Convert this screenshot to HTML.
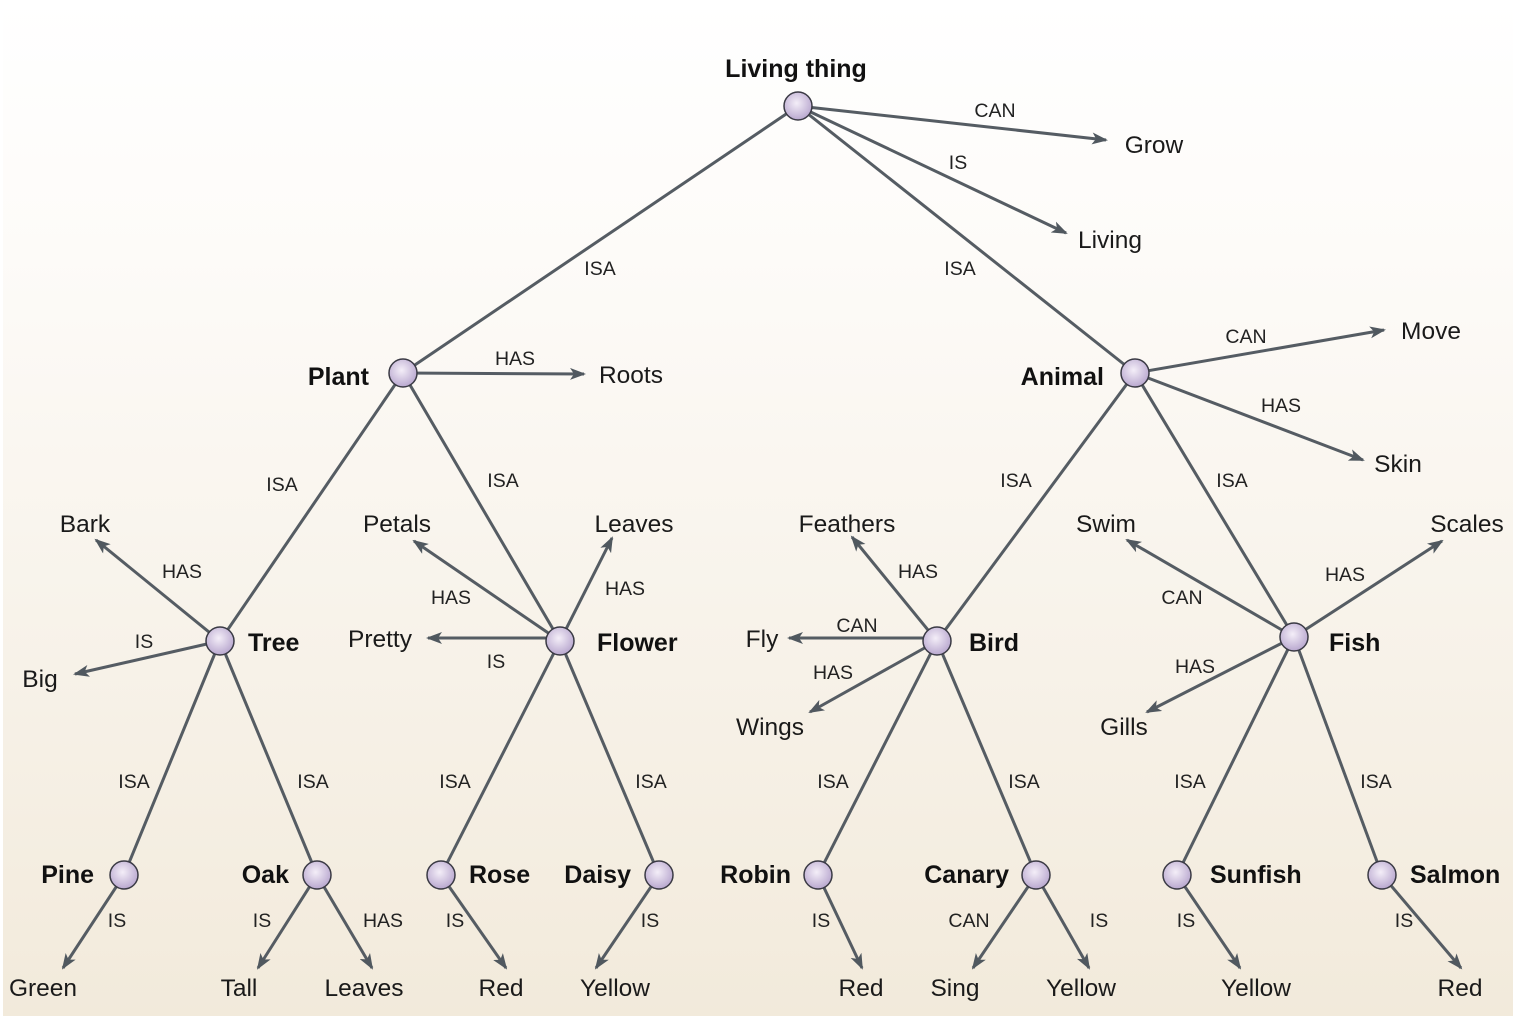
<!DOCTYPE html>
<html><head><meta charset="utf-8"><style>
html,body{margin:0;padding:0;width:1516px;height:1022px;overflow:hidden;background:#fff}
svg{display:block}
.b{font:bold 25px "Liberation Sans",sans-serif;fill:#111}
.t{font:24.5px "Liberation Sans",sans-serif;fill:#1a1a1a}
.l{font:19.5px "Liberation Sans",sans-serif;fill:#222}
</style></head><body>
<svg width="1516" height="1022" xmlns="http://www.w3.org/2000/svg">
<defs>
<linearGradient id="bg" x1="0" y1="0" x2="0" y2="1">
<stop offset="0" stop-color="#ffffff"/><stop offset="0.25" stop-color="#fdfbf8"/><stop offset="1" stop-color="#f2eadb"/>
</linearGradient>
<radialGradient id="nd" cx="0.45" cy="0.4" r="0.6">
<stop offset="0" stop-color="#f4eef8"/><stop offset="1" stop-color="#b9a8cf"/>
</radialGradient>
<marker id="a" viewBox="0 0 16 12" refX="14" refY="6" markerWidth="16" markerHeight="12" orient="auto" markerUnits="userSpaceOnUse">
<path d="M0,0 L16,6 L0,12 L4,6 z" fill="#50585f"/>
</marker>
</defs>
<rect x="3" y="0" width="1510" height="1016" fill="url(#bg)"/>
<g stroke="#555c63" stroke-width="3" fill="none">
<line x1="798" y1="106" x2="403" y2="373"/>
<line x1="798" y1="106" x2="1135" y2="373"/>
<line x1="403" y1="373" x2="220" y2="641"/>
<line x1="403" y1="373" x2="560" y2="641"/>
<line x1="1135" y1="373" x2="937" y2="641"/>
<line x1="1135" y1="373" x2="1294" y2="637"/>
<line x1="220" y1="641" x2="124" y2="875"/>
<line x1="220" y1="641" x2="317" y2="875"/>
<line x1="560" y1="641" x2="441" y2="875"/>
<line x1="560" y1="641" x2="659" y2="875"/>
<line x1="937" y1="641" x2="818" y2="875"/>
<line x1="937" y1="641" x2="1036" y2="875"/>
<line x1="1294" y1="637" x2="1177" y2="875"/>
<line x1="1294" y1="637" x2="1382" y2="875"/>
</g>
<g stroke="#555c63" stroke-width="3" fill="none" marker-end="url(#a)">
<line x1="798" y1="106" x2="1106" y2="140"/>
<line x1="798" y1="106" x2="1066" y2="233"/>
<line x1="403" y1="373" x2="584" y2="374"/>
<line x1="1135" y1="373" x2="1384" y2="330"/>
<line x1="1135" y1="373" x2="1363" y2="460"/>
<line x1="220" y1="641" x2="96" y2="540"/>
<line x1="220" y1="641" x2="75" y2="674"/>
<line x1="560" y1="641" x2="414" y2="541"/>
<line x1="560" y1="641" x2="612" y2="538"/>
<line x1="560" y1="638" x2="428" y2="638"/>
<line x1="937" y1="641" x2="852" y2="537"/>
<line x1="937" y1="638" x2="789" y2="638"/>
<line x1="937" y1="641" x2="810" y2="712"/>
<line x1="1294" y1="637" x2="1127" y2="540"/>
<line x1="1294" y1="637" x2="1442" y2="541"/>
<line x1="1294" y1="637" x2="1147" y2="712"/>
<line x1="124" y1="875" x2="63" y2="968"/>
<line x1="317" y1="875" x2="258" y2="968"/>
<line x1="317" y1="875" x2="372" y2="968"/>
<line x1="441" y1="875" x2="506" y2="968"/>
<line x1="659" y1="875" x2="596" y2="968"/>
<line x1="818" y1="875" x2="862" y2="968"/>
<line x1="1036" y1="875" x2="973" y2="968"/>
<line x1="1036" y1="875" x2="1089" y2="968"/>
<line x1="1177" y1="875" x2="1240" y2="968"/>
<line x1="1382" y1="875" x2="1461" y2="968"/>
</g>
<g fill="url(#nd)" stroke="#3a3a44" stroke-width="1.5">
<circle cx="798" cy="106" r="14"/><circle cx="403" cy="373" r="14"/><circle cx="1135" cy="373" r="14"/>
<circle cx="220" cy="641" r="14"/><circle cx="560" cy="641" r="14"/><circle cx="937" cy="641" r="14"/><circle cx="1294" cy="637" r="14"/>
<circle cx="124" cy="875" r="14"/><circle cx="317" cy="875" r="14"/><circle cx="441" cy="875" r="14"/><circle cx="659" cy="875" r="14"/>
<circle cx="818" cy="875" r="14"/><circle cx="1036" cy="875" r="14"/><circle cx="1177" cy="875" r="14"/><circle cx="1382" cy="875" r="14"/>
</g>
<g class="b">
<text x="796" y="77" text-anchor="middle">Living thing</text>
<text x="369" y="385" text-anchor="end">Plant</text>
<text x="1104" y="385" text-anchor="end">Animal</text>
<text x="248" y="651">Tree</text>
<text x="597" y="651">Flower</text>
<text x="969" y="651">Bird</text>
<text x="1329" y="651">Fish</text>
<text x="94" y="883" text-anchor="end">Pine</text>
<text x="289" y="883" text-anchor="end">Oak</text>
<text x="469" y="883">Rose</text>
<text x="631" y="883" text-anchor="end">Daisy</text>
<text x="791" y="883" text-anchor="end">Robin</text>
<text x="1009" y="883" text-anchor="end">Canary</text>
<text x="1210" y="883">Sunfish</text>
<text x="1410" y="883">Salmon</text>
</g>
<g class="t" text-anchor="middle">
<text x="1154" y="153">Grow</text>
<text x="1110" y="248">Living</text>
<text x="631" y="383">Roots</text>
<text x="1431" y="339">Move</text>
<text x="1398" y="472">Skin</text>
<text x="85" y="532">Bark</text>
<text x="40" y="687">Big</text>
<text x="397" y="532">Petals</text>
<text x="634" y="532">Leaves</text>
<text x="380" y="647">Pretty</text>
<text x="847" y="532">Feathers</text>
<text x="762" y="647">Fly</text>
<text x="770" y="735">Wings</text>
<text x="1106" y="532">Swim</text>
<text x="1467" y="532">Scales</text>
<text x="1124" y="735">Gills</text>
<text x="43" y="996">Green</text>
<text x="239" y="996">Tall</text>
<text x="364" y="996">Leaves</text>
<text x="501" y="996">Red</text>
<text x="615" y="996">Yellow</text>
<text x="861" y="996">Red</text>
<text x="955" y="996">Sing</text>
<text x="1081" y="996">Yellow</text>
<text x="1256" y="996">Yellow</text>
<text x="1460" y="996">Red</text>
</g>
<g class="l" text-anchor="middle">
<text x="995" y="117">CAN</text>
<text x="958" y="169">IS</text>
<text x="600" y="275">ISA</text>
<text x="960" y="275">ISA</text>
<text x="515" y="365">HAS</text>
<text x="1246" y="343">CAN</text>
<text x="1281" y="412">HAS</text>
<text x="282" y="491">ISA</text>
<text x="503" y="487">ISA</text>
<text x="1016" y="487">ISA</text>
<text x="1232" y="487">ISA</text>
<text x="182" y="578">HAS</text>
<text x="144" y="648">IS</text>
<text x="451" y="604">HAS</text>
<text x="625" y="595">HAS</text>
<text x="496" y="668">IS</text>
<text x="918" y="578">HAS</text>
<text x="857" y="632">CAN</text>
<text x="833" y="679">HAS</text>
<text x="1182" y="604">CAN</text>
<text x="1345" y="581">HAS</text>
<text x="1195" y="673">HAS</text>
<text x="134" y="788">ISA</text>
<text x="313" y="788">ISA</text>
<text x="455" y="788">ISA</text>
<text x="651" y="788">ISA</text>
<text x="833" y="788">ISA</text>
<text x="1024" y="788">ISA</text>
<text x="1190" y="788">ISA</text>
<text x="1376" y="788">ISA</text>
<text x="117" y="927">IS</text>
<text x="262" y="927">IS</text>
<text x="383" y="927">HAS</text>
<text x="455" y="927">IS</text>
<text x="650" y="927">IS</text>
<text x="821" y="927">IS</text>
<text x="969" y="927">CAN</text>
<text x="1099" y="927">IS</text>
<text x="1186" y="927">IS</text>
<text x="1404" y="927">IS</text>
</g>
</svg>
</body></html>
